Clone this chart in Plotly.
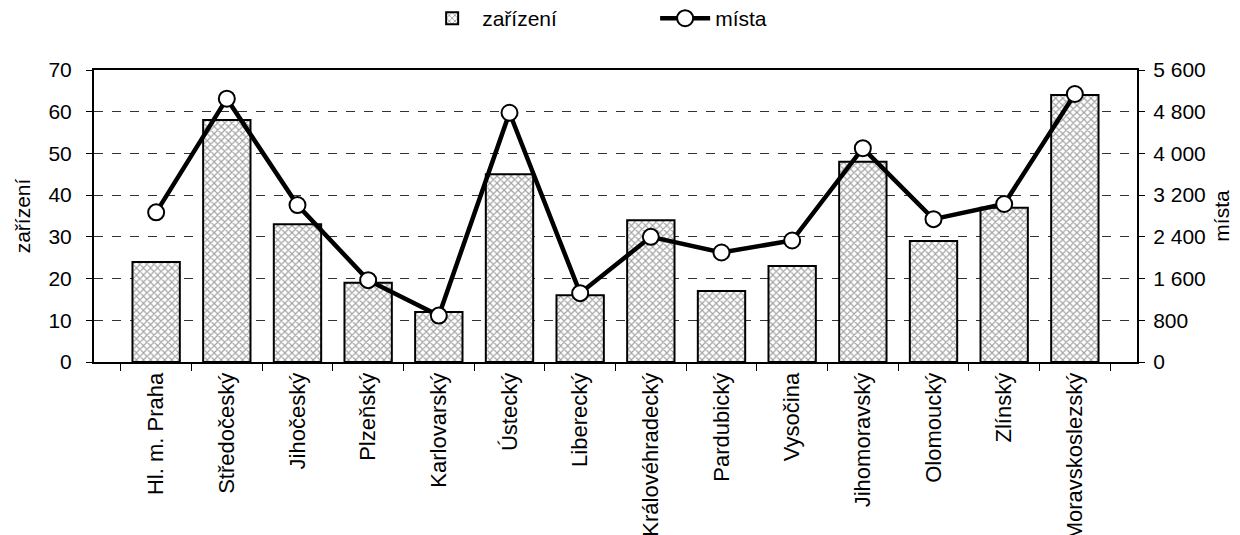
import plotly.graph_objects as go

# ── Data ─────────────────────────────────────────────────────────────────────
KRAJE = [
    "Hl. m. Praha", "Středočeský", "Jihočeský", "Plzeňský", "Karlovarský",
    "Ústecký", "Liberecký", "Královéhradecký", "Pardubický", "Vysočina",
    "Jihomoravský", "Olomoucký", "Zlínský", "Moravskoslezský",
]
ZARIZENI = [24, 58, 33, 19, 12, 45, 16, 34, 17, 23, 48, 29, 37, 64]
MISTA = [2870, 5050, 3010, 1570, 890, 4780, 1320, 2400, 2100, 2330,
         4100, 2740, 3030, 5140]

Y_LEFT_TICKS = [0, 10, 20, 30, 40, 50, 60, 70]
Y_RIGHT_TICKS = [0, 800, 1600, 2400, 3200, 4000, 4800, 5600]

# ── Style ────────────────────────────────────────────────────────────────────
FONT = "Liberation Sans, Arial, sans-serif"
INK = "#000000"
FS = 21

fig = go.Figure()

fig.add_trace(go.Bar(
    x=KRAJE, y=ZARIZENI, name="zařízení",
    marker=dict(
        color="white",
        line=dict(color=INK, width=2),
        pattern=dict(shape="x", size=5, solidity=0.4,
                     fgcolor="#444444", bgcolor="white"),
    ),
    yaxis="y",
))

fig.add_trace(go.Scatter(
    x=KRAJE, y=MISTA, name="místa",
    mode="lines+markers",
    line=dict(color=INK, width=4.5),
    marker=dict(symbol="circle", size=16, color="white",
                line=dict(color=INK, width=2)),
    yaxis="y2",
))

# the page body keeps its 8px default margin, so the figure is 8px smaller
fig.update_layout(
    width=1232, height=527,
    paper_bgcolor="white", plot_bgcolor="white",
    font=dict(family=FONT, size=FS, color=INK),
    margin=dict(l=86, r=103, t=62, b=173, autoexpand=False),
    bargap=0.33,
    showlegend=True,
    legend=dict(
        orientation="h", x=0.538, xanchor="center",
        yref="container", y=0.98, yanchor="middle",
        font=dict(size=FS), itemwidth=50, entrywidth=168,
        bgcolor="rgba(0,0,0,0)",
    ),
    xaxis=dict(
        tickangle=-90, tickson="boundaries", ticks="outside", ticklen=7,
        tickcolor=INK, tickwidth=1, automargin=False,
        showline=True, linecolor=INK, linewidth=2, mirror=True,
        showgrid=False, tickfont=dict(size=22),
    ),
    yaxis=dict(
        range=[0, 70], tickvals=Y_LEFT_TICKS, automargin=False,
        ticks="outside", ticklen=6, tickcolor=INK, ticklabelstandoff=10,
        showline=True, linecolor=INK, linewidth=2,
        showgrid=True, gridcolor="#333333", gridwidth=1, griddash="dash",
        zeroline=False,
        title=dict(text="zařízení", font=dict(size=FS), standoff=12),
        tickfont=dict(size=FS),
    ),
    yaxis2=dict(
        range=[0, 5600], tickvals=Y_RIGHT_TICKS, automargin=False,
        ticktext=[f"{v:,}".replace(",", " ") for v in Y_RIGHT_TICKS],
        overlaying="y", side="right",
        ticks="outside", ticklen=6, tickcolor=INK, ticklabelstandoff=4,
        showline=True, linecolor=INK, linewidth=2,
        showgrid=False, zeroline=False,
        title=dict(text="místa", font=dict(size=FS), standoff=10),
        tickfont=dict(size=FS),
    ),
)

fig.write_html("out.html")
